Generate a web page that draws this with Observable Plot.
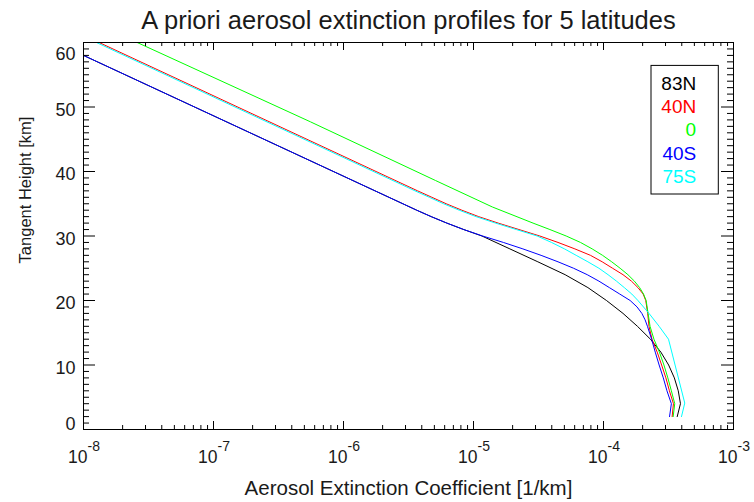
<!DOCTYPE html>
<html><head><meta charset="utf-8">
<script src="https://cdn.jsdelivr.net/npm/d3@7"></script>
<script src="https://cdn.jsdelivr.net/npm/@observablehq/plot@0.6"></script>
<style>
html,body{margin:0;padding:0;background:#fff;}
#chart svg{display:block;}
</style>
</head><body><div id="chart"></div>
<script>
const title = "A priori aerosol extinction profiles for 5 latitudes";
const xLabel = "Aerosol Extinction Coefficient [1/km]";
const yLabel = "Tangent Height [km]";
const latitudes = ["83N", "40N", "0", "40S", "75S"];
const colors = ["#000000", "#ff0000", "#00ff00", "#0000ff", "#00ffff"];

// heights [km] and log10(extinction [1/km])
const h83N = [2, 4, 6, 8, 10, 12, 14, 16, 18, 20, 22, 24, 26, 28, 30, 31, 32, 33, 34, 58, 62];
const e83N = [-3.433, -3.408, -3.425, -3.455, -3.499, -3.559, -3.639, -3.739, -3.85, -3.977, -4.12, -4.295, -4.505, -4.72, -4.935, -5.075, -5.205, -5.325, -5.437, -8.0, -8.43];
const h40N = [2, 4, 6, 8, 10, 12, 14, 16, 18, 20, 21, 22, 23, 24, 25, 26, 27, 28, 29, 30, 31, 32, 33, 34, 35, 36, 37, 60, 62];
const e40N = [-3.472, -3.462, -3.493, -3.52, -3.553, -3.587, -3.627, -3.650, -3.660, -3.675, -3.695, -3.735, -3.785, -3.85, -3.93, -4.01, -4.10, -4.22, -4.35, -4.49, -4.65, -4.81, -4.96, -5.09, -5.21, -5.32, -5.43, -7.88, -8.093];
const h0 = [2, 4, 6, 8, 10, 12, 14, 16, 18, 20, 21, 22, 23, 24, 25, 26, 27, 28, 29, 30, 31, 32, 34.5, 38.6, 47.7, 60, 62];
const e0 = [-3.464, -3.452, -3.478, -3.505, -3.535, -3.570, -3.612, -3.642, -3.657, -3.672, -3.692, -3.722, -3.762, -3.812, -3.872, -3.937, -4.007, -4.087, -4.177, -4.287, -4.412, -4.542, -4.855, -5.292, -6.254, -7.587, -7.80];
const h40S = [2, 4, 6, 8, 10, 12, 14, 16, 17, 18, 19, 20, 21, 22, 23, 24, 25, 26, 27, 28, 29, 30, 31, 32, 33, 34, 58, 62];
const e40S = [-3.492, -3.478, -3.512, -3.540, -3.572, -3.602, -3.630, -3.662, -3.68, -3.705, -3.742, -3.795, -3.875, -3.955, -4.035, -4.125, -4.23, -4.35, -4.48, -4.62, -4.77, -4.93, -5.075, -5.205, -5.325, -5.437, -8.0, -8.43];
const h75S = [2, 4.1, 14, 16, 18, 20, 21, 22, 23, 24, 25, 26, 27, 28, 29, 30, 31, 32, 33, 34, 35, 36, 37, 60, 62];
const e75S = [-3.400, -3.375, -3.5, -3.572, -3.65, -3.735, -3.782, -3.84, -3.90, -3.965, -4.035, -4.12, -4.21, -4.30, -4.40, -4.51, -4.67, -4.83, -4.98, -5.11, -5.23, -5.34, -5.45, -7.90, -8.113];

const heights = [h83N, h40N, h0, h40S, h75S];
const logExt = [e83N, e40N, e0, e40S, e75S];

const xDecades = [-8, -7, -6, -5, -4, -3];
const yMajor = [0, 10, 20, 30, 40, 50, 60];
const yMid = [10, 20, 30, 40, 50];

const rows = [];
latitudes.forEach((lat, i) => {
  heights[i].forEach((h, j) => rows.push({lat, h, ext: Math.pow(10, logExt[i][j])}));
});

const W = 754, H = 502, mL = 83, mR = 21, mT = 42, mB = 73;
const frameW = W - mL - mR, frameH = H - mT - mB;
const xMajor = xDecades.map(d => Math.pow(10, d));
const xMinor = [];
xDecades.slice(0, -1).forEach(d => { for (let k = 2; k <= 9; k++) xMinor.push(k * Math.pow(10, d)); });
const yMinor = d3.range(0, 61).filter(v => v % 10 !== 0);

const font = "'Liberation Sans', Arial, Helvetica, sans-serif";
const ink = "#1a1a1a";

const marks = [
  Plot.line(rows, {x: "ext", y: "h", z: "lat", stroke: "lat", strokeWidth: 1, clip: true}),
  Plot.frame({stroke: "#000"}),
  Plot.ruleX(xMinor, {insetTop: frameH - 4, stroke: "#000"}),
  Plot.ruleX(xMinor, {insetBottom: frameH - 4, stroke: "#000"}),
  Plot.ruleX(xMajor, {insetTop: frameH - 8, stroke: "#000"}),
  Plot.ruleX(xMajor, {insetBottom: frameH - 8, stroke: "#000"}),
  Plot.ruleY(yMinor, {insetRight: frameW - 6, stroke: "#000"}),
  Plot.ruleY(yMinor, {insetLeft: frameW - 6, stroke: "#000"}),
  Plot.ruleY(yMajor, {insetRight: frameW - 12, stroke: "#000"}),
  Plot.ruleY(yMajor, {insetLeft: frameW - 12, stroke: "#000"}),
  // x tick labels 10^n
  Plot.text(xDecades, {x: d => Math.pow(10, d), text: () => "10", frameAnchor: "bottom", textAnchor: "end", lineAnchor: "middle", dx: 4, dy: 28, fontSize: 17.5, fill: ink}),
  Plot.text(xDecades, {x: d => Math.pow(10, d), text: d => String(d), frameAnchor: "bottom", textAnchor: "start", lineAnchor: "middle", dx: 4, dy: 17.5, fontSize: 14, fill: ink}),
  // y tick labels
  Plot.text(yMid, {y: d => d, text: d => String(d), frameAnchor: "left", textAnchor: "end", lineAnchor: "middle", dx: -8, dy: 3, fontSize: 18, fill: ink}),
  Plot.text([yMajor[0]], {y: d => d, text: d => String(d), frameAnchor: "left", textAnchor: "end", lineAnchor: "middle", dx: -8, dy: -5.5, fontSize: 18, fill: ink}),
  Plot.text([yMajor[yMajor.length - 1]], {y: d => d, text: d => String(d), frameAnchor: "left", textAnchor: "end", lineAnchor: "middle", dx: -8, dy: 11.5, fontSize: 18, fill: ink}),
  // titles
  Plot.text([title], {frameAnchor: "top", textAnchor: "middle", lineAnchor: "middle", dy: -22, fontSize: 25.5, fill: ink}),
  Plot.text([xLabel], {frameAnchor: "bottom", textAnchor: "middle", lineAnchor: "middle", dy: 59, fontSize: 20.5, fill: ink}),
  Plot.text([yLabel], {frameAnchor: "left", textAnchor: "middle", rotate: -90, lineAnchor: "middle", dx: -58, dy: -46, fontSize: 16.5, fill: ink}),
  // legend entries
  ...latitudes.map((lat, i) => Plot.text([lat], {frameAnchor: "top-right", textAnchor: "end", lineAnchor: "middle", dx: -37.3, dy: 41 + i * 23.35, fontSize: 19, fill: colors[i]}))
];

const plot = Plot.plot({
  width: W, height: H,
  marginLeft: mL, marginRight: mR, marginTop: mT, marginBottom: mB,
  style: {fontFamily: font, background: "#fff", color: ink},
  x: {type: "log", domain: [1e-8, 1e-3], axis: null},
  y: {domain: [0, 60], axis: null},
  color: {domain: latitudes, range: colors},
  marks
});

// legend box (positioned relative to the frame)
d3.select(plot).append("rect")
  .attr("x", mL + frameW - 14.7 - 67.3)
  .attr("y", mT + 23.4)
  .attr("width", 67.3)
  .attr("height", 128.6)
  .attr("fill", "none")
  .attr("stroke", "#000")
  .attr("stroke-width", 1);

document.getElementById("chart").appendChild(plot);
</script>
</body></html>
